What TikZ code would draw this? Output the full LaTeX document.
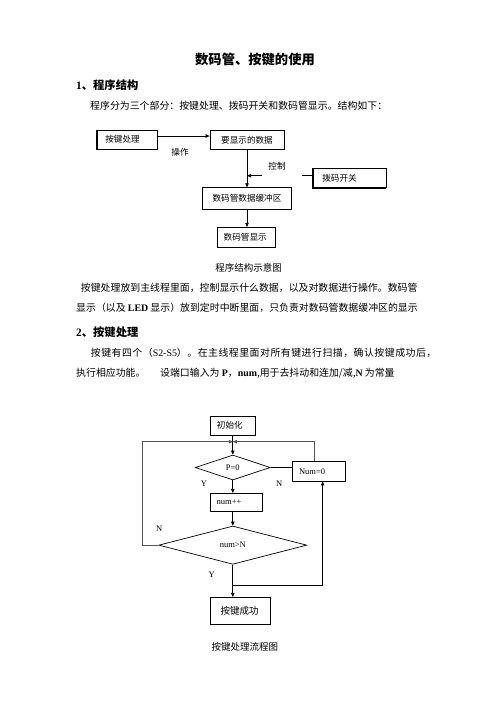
\documentclass[tikz,border=0pt]{standalone}
\usepackage{fontspec}
\setmainfont{Noto Sans CJK SC}
\newfontfamily\lat{Liberation Serif}
\usetikzlibrary{arrows.meta,shapes.geometric,calc}
\definecolor{loopgray}{rgb}{0.33,0.33,0.33}
\begin{document}
\begin{tikzpicture}[x=1pt,y=-1pt,
  dfont/.style={font=\fontsize{8.6}{10}\selectfont},
  box/.style={draw,line width=0.7pt,inner sep=0pt,dfont},
  lbox/.style={box,align=left,inner xsep=#1},
  dia/.style={draw,diamond,line width=0.7pt,inner sep=0pt,font=\lat\fontsize{8.5}{10}\selectfont},
  arr/.style={-{Triangle[length=4pt,width=3.4pt]},line width=0.7pt},
  garr/.style={arr,draw=loopgray},
  txt/.style={inner sep=0pt,anchor=west,font=\fontsize{9.9}{12}\selectfont},
  head/.style={inner sep=0pt,anchor=west,font=\bfseries\fontsize{11.3}{13}\selectfont},
  lab/.style={inner sep=0pt,font=\fontsize{8.6}{10}\selectfont},
  yn/.style={inner sep=0pt,font=\lat\fontsize{8.5}{10}\selectfont},
  captext/.style={inner sep=0pt,font=\fontsize{9.5}{11}\selectfont}
]
\fill[white] (0,0) rectangle (496,702);
\useasboundingbox (0,0) rectangle (496,702);

% ---------- texts ----------
\node[inner sep=0pt,font=\bfseries\fontsize{13.3}{15}\selectfont] (title) at (255,59) {数码管、按键的使用};
\node[head] (h1) at (76,85) {{\lat\bfseries 1}、程序结构};
\node[txt] (p1) at (90,106) {程序分为三个部分：按键处理、拨码开关和数码管显示。结构如下：};

% ---------- structure diagram ----------
\node[lbox=8pt,text width=44pt,minimum height=19pt] (ajcl) at (127.3,139.5) {按键处理};
\node[box,minimum width=74pt,minimum height=18.3pt] (ysxs) at (247,139.85) {要显示的数据};
\node[lbox=9pt,text width=54.7pt,minimum height=19.4pt] (bmkg) at (349.7,178) {拨码开关};
\node[box,minimum width=89.6pt,minimum height=21.3pt] (hcq) at (247,198.35) {数码管数据缓冲区};
\node[lbox=6pt,text width=46pt,minimum height=20pt] (xs) at (246.7,237.3) {数码管显示};
\draw[line width=1.3pt] (ajcl.north west) -- (ajcl.south west) -- (ajcl.south east);
\draw[line width=1.3pt] (bmkg.north west) -- (bmkg.south west) -- (bmkg.south east);

\draw[arr] ([yshift=3.5pt]ajcl.east) -- ([yshift=3.5pt]ajcl.east -| ysxs.west);
\draw[arr] (ysxs.south) -- (hcq.north);
\draw[arr] (hcq.south) -- (hcq.south |- xs.north);
\coordinate (c1) at (301.7,175.7);
\coordinate (c2) at (261.7,175.7);
\coordinate (c3) at (247,175.7);
\draw[line width=0.7pt] (c1 -| bmkg.west) -- (c1);
\draw[arr] (c2) -- (c3);
\node[lab] (op) at (180,152.7) {操作};
\node[lab] (ctl) at (277,166) {控制};

\node[captext] (cap1) at (248.5,268) {程序结构示意图};

% ---------- paragraph ----------
\node[txt] (p2) at (80.7,288) {按键处理放到主线程里面，控制显示什么数据，以及对数据进行操作。数码管};
\node[txt] (p3) at (76,308) {显示（以及 {\lat\bfseries LED} 显示）放到定时中断里面，只负责对数码管数据缓冲区的显示};
\node[head] (h2) at (76,332) {{\lat\bfseries 2}、按键处理};
\node[txt] (p4) at (90.7,353) {\addfontfeature{LetterSpace=5}按键有四个（{\lat S2-S5}）。在主线程里面对所有键进行扫描，确认按键成功后，};
\node[txt] (p5) at (76,373) {\makebox[84pt][l]{执行相应功能。}设端口输入为 {\lat\bfseries P}，{\lat\bfseries num},用于去抖动和连加/减,{\lat\bfseries N} 为常量};

% ---------- flowchart ----------
\node[lbox=6.6pt,text width=31.8pt,minimum height=19pt] (init) at (232.8,425.5) {初始化};
\node[dia,minimum width=75pt,minimum height=25pt] (d1) at (232.8,467.5) {P=0};
\node[lbox=6.7pt,text width=39.3pt,minimum height=19.3pt,font=\lat\fontsize{8.5}{10}\selectfont] (num0) at (318.65,471.35) {Num=0};
\node[lbox=6pt,text width=39.6pt,minimum height=18.4pt,font=\lat\fontsize{8.5}{10}\selectfont] (numpp) at (236.5,502.5) {num++};
\node[dia,minimum width=148pt,minimum height=38.3pt] (d2) at (232.8,545.15) {num>N};
\node[lbox=10pt,text width=39.3pt,minimum height=26.7pt,font=\fontsize{9.5}{11}\selectfont] (cg) at (240.35,610.65) {按键成功};

\coordinate (j) at (232.8,441.7);
\draw[arr] (init.south) -- (d1.north);
\draw[garr] (d2.west) -- ++(-16.6,0) |- (j);
\draw[garr] ([xshift=-4.3pt]num0.north) |- (j);
\draw[line width=0.7pt] (d1.east) -- (d1.east -| num0.west);
\draw[arr] (d1.south) -- (d1.south |- numpp.north);
\draw[arr] (d2.north |- numpp.south) -- (d2.north);
\draw[arr] (d2.south) -- (d2.south |- cg.north);
\coordinate (k) at (232.8,585);
\draw[arr] (k) -| ([xshift=4pt]num0.south);

\node[yn] (y1) at (204,484) {Y};
\node[yn] (n1) at (279.3,484) {N};
\node[yn] (n2) at (159.3,528.5) {N};
\node[yn] (y2) at (211.7,575) {Y};

\node[captext] (cap2) at (244.9,646.7) {按键处理流程图};
\end{tikzpicture}
\end{document}
